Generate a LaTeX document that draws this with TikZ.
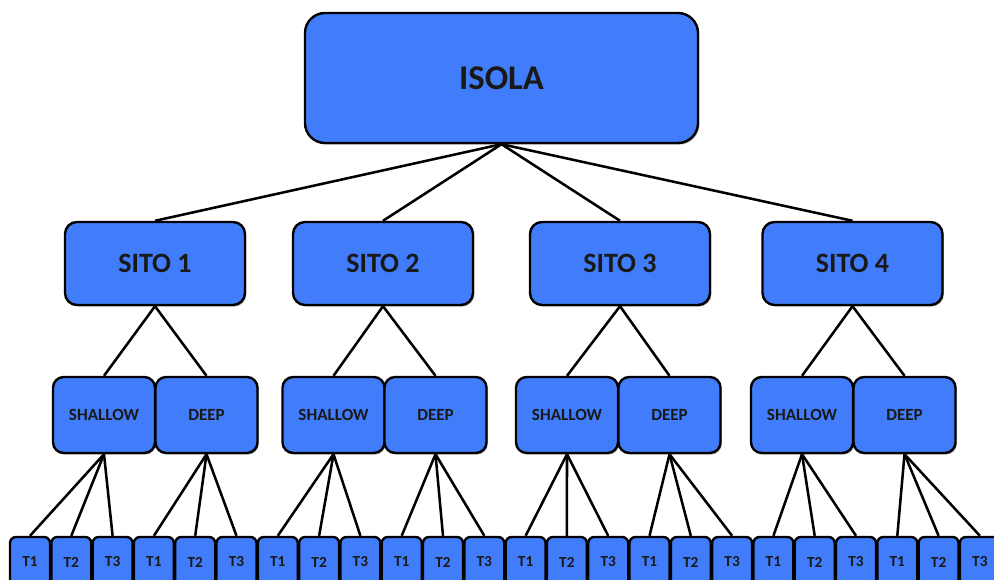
\documentclass[tikz,border=0pt]{standalone}
\usepackage{fontspec}
\setmainfont{Carlito}
\usetikzlibrary{shadows,backgrounds}
\definecolor{boxblue}{RGB}{65,125,250}
\tikzset{
  box/.style={draw=black, line width=1.8pt, fill=boxblue, inner sep=0pt,
    font=\bfseries, text=black!90,
    drop shadow={shadow xshift=1pt, shadow yshift=-1.2pt, opacity=0.3, fill=black}},
  topbox/.style={box, rounded corners=15pt, minimum width=294.75pt, minimum height=97.5pt, font=\fontsize{26}{29}\selectfont\bfseries},
  sitobox/.style={box, rounded corners=9pt, minimum width=135pt, minimum height=62.25pt, font=\fontsize{21}{24}\selectfont\bfseries},
  layerbox/.style={box, rounded corners=8pt, minimum width=76.5pt, minimum height=57pt, font=\fontsize{12.8}{15}\selectfont\bfseries},
  tbox/.style={box, rounded corners=4.5pt, minimum width=30pt, minimum height=37.5pt, font=\fontsize{11.5}{13}\selectfont\bfseries},
  conn/.style={draw=black, line width=1.9pt}
}
\begin{document}
\begin{tikzpicture}[x=0.75pt,y=-0.75pt]
\useasboundingbox (0,0) rectangle (994,580);
\clip (0,0) rectangle (994,580);

\node[topbox] (isola) at (501.5,78) {ISOLA};

\node[sitobox] (s1) at (155,263.5) {SITO 1};
\node[sitobox] (s2) at (383,263.5) {SITO 2};
\node[sitobox] (s3) at (620,263.5) {SITO 3};
\node[sitobox] (s4) at (852.5,263.5) {SITO 4};

\node[layerbox] (sh1) at (104,415) {SHALLOW};
\node[layerbox] (dp1) at (206.5,415) {DEEP};
\node[layerbox] (sh2) at (333.5,415) {SHALLOW};
\node[layerbox] (dp2) at (435.5,415) {DEEP};
\node[layerbox] (sh3) at (567,415) {SHALLOW};
\node[layerbox] (dp3) at (669.5,415) {DEEP};
\node[layerbox] (sh4) at (802,415) {SHALLOW};
\node[layerbox] (dp4) at (904.5,415) {DEEP};

\foreach \g in {0,...,7}{
  \foreach \k in {1,2,3}{
    \pgfmathsetmacro{\cx}{30+41.3*(3*\g+\k-1)}
    \node[tbox] (t\g-\k) at (\cx,562) {T\k};
  }
}

\begin{scope}[on background layer]
  \fill[white] (0,0) rectangle (994,580);
  \foreach \s in {1,2,3,4}{
    \draw[conn] (isola.south) -- (s\s.north);
    \draw[conn] (s\s.south) -- (sh\s.north);
    \draw[conn] (s\s.south) -- (dp\s.north);
  }
  \foreach \p/\g in {sh1/0,dp1/1,sh2/2,dp2/3,sh3/4,dp3/5,sh4/6,dp4/7}{
    \foreach \k in {1,2,3}{
      \draw[conn] (\p.south) -- (t\g-\k.north);
    }
  }
\end{scope}
\end{tikzpicture}
\end{document}
